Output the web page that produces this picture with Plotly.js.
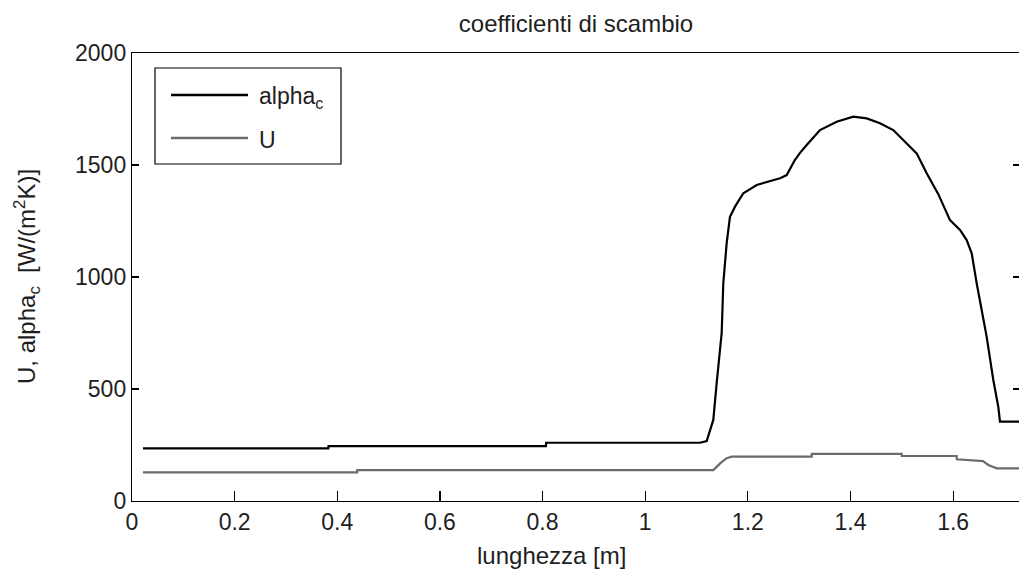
<!DOCTYPE html>
<html>
<head>
<meta charset="utf-8">
<script src="https://cdn.plot.ly/plotly-3.0.1.min.js"></script>
<style>
  html, body { margin: 0; padding: 0; background: #fff; overflow: hidden; }
  #chart { width: 1040px; height: 571px; }
</style>
</head>
<body>
<div id="chart"></div>
<script>
// Heat-transfer coefficients along the tube length
const seriesNames = ["alpha<sub>c</sub>", "U"];

const xAlpha = [0.0214, 0.3825, 0.383, 0.8067, 0.807, 1.1068, 1.1198, 1.1327, 1.1393, 1.149,
                1.1522, 1.1588, 1.1652, 1.175, 1.1912, 1.2173, 1.2627, 1.2757, 1.2916, 1.3017,
                1.3147, 1.3406, 1.3731, 1.4055, 1.4316, 1.4575, 1.4834, 1.5095, 1.529, 1.5485,
                1.5711, 1.5939, 1.6134, 1.6264, 1.6362, 1.6459, 1.6654, 1.6783, 1.688, 1.6913, 1.7303];
const alphaC = [235, 235, 245, 245, 260, 260, 268, 362, 527, 750,
                973, 1152, 1269, 1314, 1374, 1411, 1441, 1455, 1522, 1554,
                1589, 1656, 1693, 1716, 1708, 1686, 1656, 1597, 1552, 1463,
                1370, 1254, 1210, 1165, 1106, 972, 733, 540, 421, 354, 354];

const xU = [0.0214, 0.4388, 0.439, 1.1327, 1.146, 1.1588, 1.1685, 1.3244, 1.3246, 1.4998,
            1.5, 1.607, 1.6072, 1.639, 1.6582, 1.6686, 1.685, 1.7303];
const uVals = [128, 128, 138, 138, 168, 191, 198, 198, 210, 210,
               201, 201, 186, 183, 178, 161, 146, 146];

const titleText = "coefficienti di scambio";
const xLabel = "lunghezza [m]";
const yLabel = "U, alpha<sub>c</sub>  [W/(m<sup>2</sup>K)]";

const FONT = "Liberation Sans, Arial, sans-serif";
const TXT = "#1e1e1e";

const traces = [
  { x: xAlpha, y: alphaC, mode: "lines", name: seriesNames[0],
    line: { color: "#000000", width: 2.2 }, showlegend: false },
  { x: xU, y: uVals, mode: "lines", name: seriesNames[1],
    line: { color: "#6b6b6b", width: 2.2 }, showlegend: false }
];

// plot area in pixels: left 132, right 1020, top 53, bottom 501
const L = 132, R = 1020, T = 53, B = 501;
const px = p => (p - L) / (R - L);
const py = p => (B - p) / (B - T);

const legendBox = { x0: 155, x1: 341, y0: 68, y1: 164 };
const legendRows = [95, 138];

const shapes = [
  { type: "rect", xref: "paper", yref: "paper",
    x0: px(legendBox.x0), x1: px(legendBox.x1), y0: py(legendBox.y1), y1: py(legendBox.y0),
    line: { color: "#000", width: 1.2 }, fillcolor: "#fff", layer: "above" }
];
traces.forEach((t, i) => {
  shapes.push({ type: "line", xref: "paper", yref: "paper",
    x0: px(171), x1: px(248), y0: py(legendRows[i]), y1: py(legendRows[i]),
    line: { color: t.line.color, width: 2.5 }, layer: "above" });
});

const annotations = traces.map((t, i) => ({
  xref: "paper", yref: "paper", x: px(257), y: py(legendRows[i] + 2),
  xanchor: "left", yanchor: "middle", showarrow: false,
  text: t.name, font: { family: FONT, size: 23, color: TXT }
}));
annotations.push({
  xref: "paper", yref: "paper", x: px(551), y: py(555),
  xanchor: "center", yanchor: "middle", showarrow: false,
  text: xLabel, font: { family: FONT, size: 24, color: TXT }
});
annotations.push({
  xref: "paper", yref: "paper", x: px(27), y: py(277),
  xanchor: "center", yanchor: "middle", showarrow: false, textangle: -90,
  text: yLabel, font: { family: FONT, size: 24, color: TXT }
});

const layout = {
  width: 1040, height: 571,
  margin: { l: L, r: 1040 - R, t: T, b: 571 - B },
  paper_bgcolor: "#fff", plot_bgcolor: "#fff",
  title: { text: titleText, x: 0.5, xref: "paper", y: 1 - 24 / 571, yref: "container",
           xanchor: "center", yanchor: "middle",
           font: { family: FONT, size: 24, color: TXT } },
  xaxis: { range: [0, (R - L) / 513.2], dtick: 0.2, tick0: 0, showgrid: false, zeroline: false,
           showline: true, linecolor: "#000", linewidth: 1.2, mirror: true,
           ticks: "inside", ticklen: 10, tickcolor: "#000", tickwidth: 1.2,
           tickfont: { family: FONT, size: 23, color: TXT } },
  yaxis: { range: [0, 2000], dtick: 500, tick0: 0, showgrid: false, zeroline: false,
           showline: true, linecolor: "#000", linewidth: 1.2, mirror: "ticks",
           ticks: "inside", ticklen: 7, tickcolor: "#000", tickwidth: 1.2,
           tickfont: { family: FONT, size: 23, color: TXT } },
  shapes: shapes,
  annotations: annotations
};

Plotly.newPlot("chart", traces, layout, { staticPlot: true, displayModeBar: false });
</script>
</body>
</html>
